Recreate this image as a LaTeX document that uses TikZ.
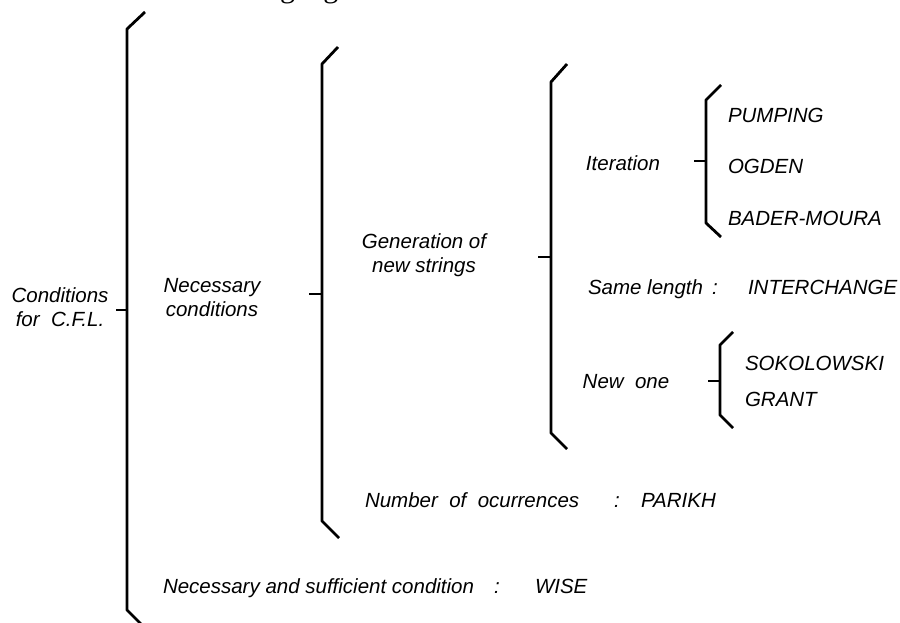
\documentclass[tikz,border=0pt]{standalone}
\usepackage{fontspec}
\setmainfont{Liberation Sans}
\newfontfamily\toptextfont{Liberation Serif}
\newcommand\lblfont{\fontsize{20.5}{24}\selectfont\itshape}
\begin{document}
\begin{tikzpicture}[x=1pt,y=-1pt,
  lbl/.style={font=\lblfont, inner sep=0pt, outer sep=0pt},
  ml/.style={lbl, align=center},
  bw/.style={lbl, anchor=base west},
  bc/.style={lbl, anchor=base},
  brk/.style={line width=2.8pt, line join=round, line cap=butt},
  tick/.style={line width=2.8pt}]
\fill[white] (0,0) rectangle (900,623);
\useasboundingbox (0,0) rectangle (900,623);
\begin{scope}
\clip (0,0) rectangle (900,623);
\node[inner sep=0pt, anchor=base east, font=\toptextfont\fontsize{30}{36}\selectfont] (toptext) at (371,-2) {of the context-free languages.};

% outermost bracket
\coordinate (b1t) at (145,12);
\coordinate (b1k) at (127,29);
\coordinate (b1m) at (127,610);
\coordinate (b1e) at (145,628);
\coordinate (b1s) at (116,310);
\coordinate (b1c) at (127,310);
\draw[brk] (b1t) -- (b1k) -- (b1m) -- (b1e);
\draw[tick] (b1s) -- (b1c);
\end{scope}

\node[ml] (cfl) at (60,307.5) {Conditions\\for\ \ C.F.L.};
\node[ml] (nec) at (212,297.5) {Necessary\\conditions};

% bracket 2
\coordinate (b2t) at (338,47);
\coordinate (b2k) at (322,64);
\coordinate (b2m) at (322,521);
\coordinate (b2e) at (339,538);
\coordinate (b2s) at (309,294);
\coordinate (b2c) at (322,294);
\draw[brk] (b2t) -- (b2k) -- (b2m) -- (b2e);
\draw[tick] (b2s) -- (b2c);

\node[ml] (gen) at (424,255) {Generation of\\new strings};

% bracket 3
\coordinate (b3t) at (567,64);
\coordinate (b3k) at (551,82);
\coordinate (b3m) at (551,433);
\coordinate (b3e) at (567,449);
\coordinate (b3s) at (538,257);
\coordinate (b3c) at (551,257);
\draw[brk] (b3t) -- (b3k) -- (b3m) -- (b3e);
\draw[tick] (b3s) -- (b3c);

\node[bc] (iter) at (623,171) {Iteration};

% bracket 4
\coordinate (b4t) at (721,85);
\coordinate (b4k) at (706,100);
\coordinate (b4m) at (706,223);
\coordinate (b4e) at (721,237);
\coordinate (b4s) at (694,161);
\coordinate (b4c) at (706,161);
\draw[brk] (b4t) -- (b4k) -- (b4m) -- (b4e);
\draw[tick] (b4s) -- (b4c);

\node[bw] (pump) at (728,123) {PUMPING};
\node[bw] (ogden) at (728,174) {OGDEN};
\node[bw] (bader) at (728,225) {BADER-MOURA};

\node[bw] (same) at (588,294) {Same length};
\node[bc] (samecol) at (715,294) {:};
\node[bw] (inter) at (748,294) {INTERCHANGE};

\node[bc] (newone) at (626,388) {New\ \ one};

% bracket 5
\coordinate (b5t) at (733,332);
\coordinate (b5k) at (720,345);
\coordinate (b5m) at (720,415);
\coordinate (b5e) at (733,428);
\coordinate (b5s) at (708,381);
\coordinate (b5c) at (720,381);
\draw[brk] (b5t) -- (b5k) -- (b5m) -- (b5e);
\draw[tick] (b5s) -- (b5c);

\node[bw] (soko) at (745,370) {SOKOLOWSKI};
\node[bw] (grant) at (745,406) {GRANT};

\node[bw] (numb) at (365,507) {Number\ \ of\ \ ocurrences};
\node[bc] (numbcol) at (617,507) {:};
\node[bw] (parikh) at (641,507) {PARIKH};

\node[bw] (nsc) at (163,593) {Necessary and sufficient condition};
\node[bc] (nsccol) at (497,593) {:};
\node[bw] (wise) at (535,593) {WISE};
\end{tikzpicture}
\end{document}
